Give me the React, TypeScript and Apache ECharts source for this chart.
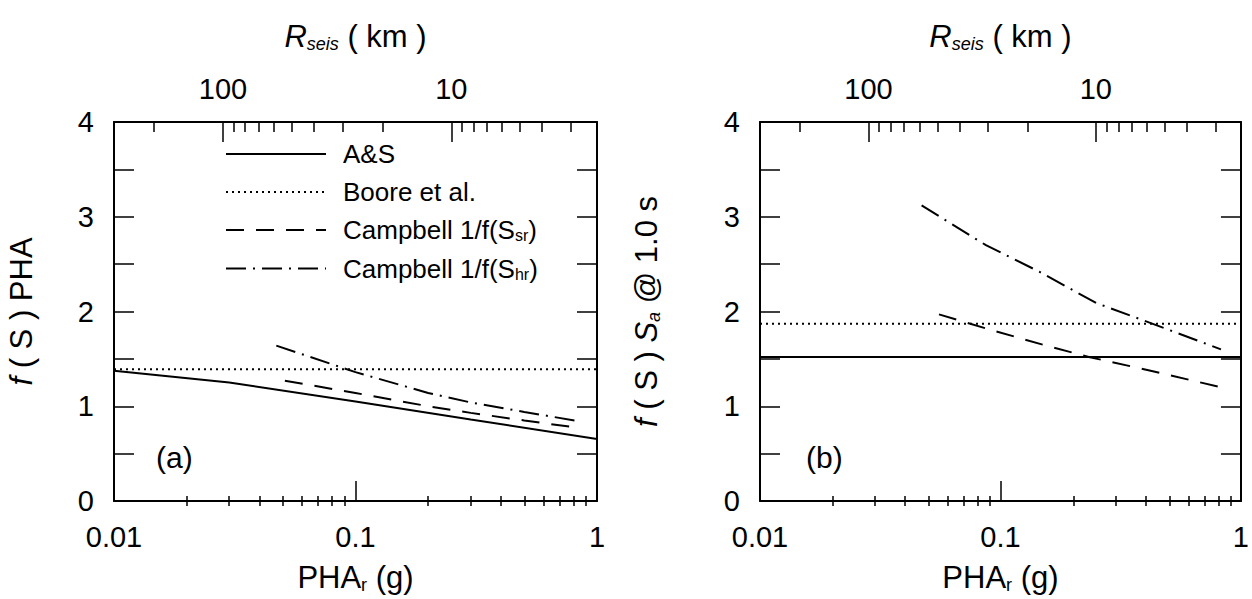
import React, { useEffect, useRef } from "react";
import * as echarts from "echarts";

// Axis tick values
const phaMajor = [0.01, 0.1, 1];
const phaMinor = [0.02, 0.03, 0.04, 0.05, 0.06, 0.07, 0.08, 0.09, 0.2, 0.3, 0.4, 0.5, 0.6, 0.7, 0.8, 0.9];
const rMajor = [100, 10];
const rMinor = [200, 90, 80, 70, 60, 50, 40, 30, 20, 9, 8, 7, 6, 5, 4, 3];
const rRange = [2.3, 300];

// Panel (a): f(S) PHA
const aAsX = [0.01, 0.03, 0.1, 0.3, 1.0];
const aAsY = [1.375, 1.25, 1.05, 0.86, 0.655];
const aBooreX = [0.01, 1.0];
const aBooreY = [1.39, 1.39];
const aSsrX = [0.051, 0.1, 0.2, 0.3, 0.5, 0.85];
const aSsrY = [1.27, 1.14, 1.0, 0.93, 0.85, 0.77];
const aShrX = [0.047, 0.1, 0.2, 0.3, 0.5, 0.85];
const aShrY = [1.64, 1.36, 1.14, 1.04, 0.94, 0.84];

// Panel (b): f(S) Sa @ 1.0 s
const bAsX = [0.01, 1.0];
const bAsY = [1.52, 1.52];
const bBooreX = [0.01, 1.0];
const bBooreY = [1.87, 1.87];
const bSsrX = [0.0555, 0.093, 0.15, 0.233, 0.43, 0.826];
const bSsrY = [1.97, 1.8, 1.65, 1.52, 1.37, 1.2];
const bShrX = [0.047, 0.087, 0.145, 0.25, 0.43, 0.826];
const bShrY = [3.12, 2.7, 2.42, 2.09, 1.87, 1.6];

const names = ["A&S", "Boore et al.", "Campbell 1/f(S_sr)", "Campbell 1/f(S_hr)"];
const legendText: Record<string, string> = {
  "A&S": "{t|A&S}",
  "Boore et al.": "{t|Boore et al.}",
  "Campbell 1/f(S_sr)": "{t|Campbell 1/f(S}{s|sr}{t|)}",
  "Campbell 1/f(S_hr)": "{t|Campbell 1/f(S}{s|hr}{t|)}",
};

const FONT = "'Liberation Sans', Arial, Helvetica, sans-serif";
const BLACK = "#000";
const TICK_FS = 29;
const TITLE_FS = 31;
const styles: any[] = [
  { type: "solid" },
  { type: [2, 4] },
  { type: [18, 12] },
  { type: [20, 7, 2, 7] },
];

const lg = (v: number) => Math.log10(v);
const fmtPha = (v: number) => String(Math.pow(10, Math.round(v)));

const grids = [
  { left: 114, top: 122, width: 483, height: 384 },
  { left: 760, top: 122, width: 482, height: 384 },
];

function buildAxes(p: number, yName: string, yGap: number) {
  const gMain = 2 * p;
  const gMinor = 2 * p + 1;
  const nameRich = {
    n: { fontSize: TITLE_FS, fontFamily: FONT, color: BLACK, lineHeight: TITLE_FS + 3 },
    i: { fontSize: TITLE_FS, fontFamily: FONT, color: BLACK, fontStyle: "italic", lineHeight: TITLE_FS + 3 },
    s: { fontSize: 18, fontFamily: FONT, color: BLACK, verticalAlign: "bottom", lineHeight: 16 },
    is: { fontSize: 18, fontFamily: FONT, color: BLACK, fontStyle: "italic", verticalAlign: "bottom", lineHeight: 16 },
  };
  const xAxes = [
    {
      gridIndex: gMain,
      type: "value",
      position: "bottom",
      min: lg(phaMajor[0]),
      max: lg(phaMajor[phaMajor.length - 1]),
      interval: 1,
      axisLine: { show: true, onZero: false, lineStyle: { color: BLACK, width: 2 } },
      axisTick: { show: true, inside: true, length: 20, lineStyle: { color: BLACK, width: 1.5 } },
      axisLabel: { show: true, margin: 21, fontSize: TICK_FS, fontFamily: FONT, color: BLACK, formatter: fmtPha },
      splitLine: { show: false },
      name: "{n|PHA}{s|r}{n| (g)}",
      nameLocation: "middle",
      nameGap: 59,
      nameTextStyle: { rich: nameRich },
    },
    {
      gridIndex: gMain,
      type: "value",
      position: "top",
      inverse: true,
      min: lg(rRange[0]),
      max: lg(rRange[1]),
      axisLine: { show: true, onZero: false, lineStyle: { color: BLACK, width: 2 } },
      axisTick: {
        show: true,
        inside: true,
        length: 20,
        customValues: rMajor.map(lg),
        lineStyle: { color: BLACK, width: 1.5 },
      },
      axisLabel: {
        show: true,
        margin: 19,
        fontSize: TICK_FS,
        fontFamily: FONT,
        color: BLACK,
        customValues: rMajor.map(lg),
        formatter: (v: number) => String(Math.round(Math.pow(10, v))),
      },
      splitLine: { show: false },
      name: "{i|R}{is|seis}{n| ( km )}",
      nameLocation: "middle",
      nameGap: 69,
      nameTextStyle: { rich: nameRich },
    },
    {
      gridIndex: gMinor,
      type: "value",
      position: "bottom",
      min: lg(phaMajor[0]),
      max: lg(phaMajor[phaMajor.length - 1]),
      axisLine: { show: false },
      axisTick: {
        show: true,
        inside: true,
        length: 10,
        customValues: phaMinor.map(lg),
        lineStyle: { color: BLACK, width: 1.5 },
      },
      axisLabel: { show: false },
      splitLine: { show: false },
    },
    {
      gridIndex: gMinor,
      type: "value",
      position: "top",
      inverse: true,
      min: lg(rRange[0]),
      max: lg(rRange[1]),
      axisLine: { show: false },
      axisTick: {
        show: true,
        inside: true,
        length: 10,
        customValues: rMinor.map(lg),
        lineStyle: { color: BLACK, width: 1.5 },
      },
      axisLabel: { show: false },
      splitLine: { show: false },
    },
  ];
  const yCommon = {
    type: "value",
    min: 0,
    max: 4,
    interval: 0.5,
    axisLine: { show: true, onZero: false, lineStyle: { color: BLACK, width: 2 } },
    axisTick: { show: true, inside: true, length: 20, lineStyle: { color: BLACK, width: 1.5 } },
    splitLine: { show: false },
  };
  const yAxes = [
    {
      ...yCommon,
      gridIndex: gMain,
      position: "left",
      axisLabel: {
        show: true,
        margin: 20,
        fontSize: TICK_FS,
        fontFamily: FONT,
        color: BLACK,
        formatter: (v: number) => (Number.isInteger(v) ? String(v) : ""),
      },
      name: yName,
      nameLocation: "middle",
      nameGap: yGap,
      nameRotate: 90,
      nameTextStyle: { rich: nameRich },
    },
    {
      ...yCommon,
      gridIndex: gMain,
      position: "right",
      axisLabel: { show: false },
    },
    {
      gridIndex: gMinor,
      type: "value",
      min: 0,
      max: 4,
      show: false,
    },
  ];
  return { xAxes, yAxes };
}

function mkSeries(p: number, idx: number, xs: number[], ys: number[]) {
  return {
    type: "line",
    name: names[idx],
    xAxisIndex: 4 * p,
    yAxisIndex: 3 * p,
    data: xs.map((x, i) => [lg(x), ys[i]]),
    showSymbol: false,
    symbol: "none",
    lineStyle: { color: BLACK, width: 2, ...styles[idx] },
    itemStyle: { color: BLACK },
    emphasis: { disabled: true },
  };
}

export default function App() {
  const ref = useRef<HTMLDivElement>(null);
  useEffect(() => {
    if (!ref.current) return;
    const chart = echarts.init(ref.current, undefined, { renderer: "svg" });
    const a = buildAxes(0, "{i|f}{n| ( S ) PHA}", 76);
    const b = buildAxes(1, "{i|f}{n| ( S ) }{i|S}{is|a}{n| @ 1.0 s}", 97);
    const option: any = {
      animation: false,
      backgroundColor: "#fff",
      grid: [grids[0], grids[0], grids[1], grids[1]].map((g) => ({ ...g, containLabel: false })),
      xAxis: [...a.xAxes, ...b.xAxes],
      yAxis: [...a.yAxes, ...b.yAxes],
      legend: {
        data: names,
        orient: "vertical",
        left: 220,
        top: 136,
        itemWidth: 100,
        itemHeight: 14,
        itemGap: 12,
        selectedMode: false,
        itemStyle: { opacity: 0 },
        textStyle: {
          fontSize: 26,
          fontFamily: FONT,
          color: BLACK,
          padding: [0, 0, 0, 12],
          rich: {
            t: { fontSize: 26, fontFamily: FONT, color: BLACK, lineHeight: 27 },
            s: { fontSize: 16, fontFamily: FONT, color: BLACK, verticalAlign: "bottom", lineHeight: 14 },
          },
        },
        formatter: (n: string) => legendText[n] || n,
      },
      graphic: [
        { type: "text", left: 156, top: 442, style: { text: "(a)", fontSize: 30, fontFamily: FONT, fill: BLACK } },
        { type: "text", left: 806, top: 442, style: { text: "(b)", fontSize: 30, fontFamily: FONT, fill: BLACK } },
      ],
      series: [
        mkSeries(0, 0, aAsX, aAsY),
        mkSeries(0, 1, aBooreX, aBooreY),
        mkSeries(0, 2, aSsrX, aSsrY),
        mkSeries(0, 3, aShrX, aShrY),
        mkSeries(1, 0, bAsX, bAsY),
        mkSeries(1, 1, bBooreX, bBooreY),
        mkSeries(1, 2, bSsrX, bSsrY),
        mkSeries(1, 3, bShrX, bShrY),
      ],
    };
    chart.setOption(option);
    return () => chart.dispose();
  }, []);
  return (
    <div
      ref={ref}
      style={{ position: "fixed", left: 0, top: 0, width: 1252, height: 599, background: "#fff" }}
    />
  );
}
